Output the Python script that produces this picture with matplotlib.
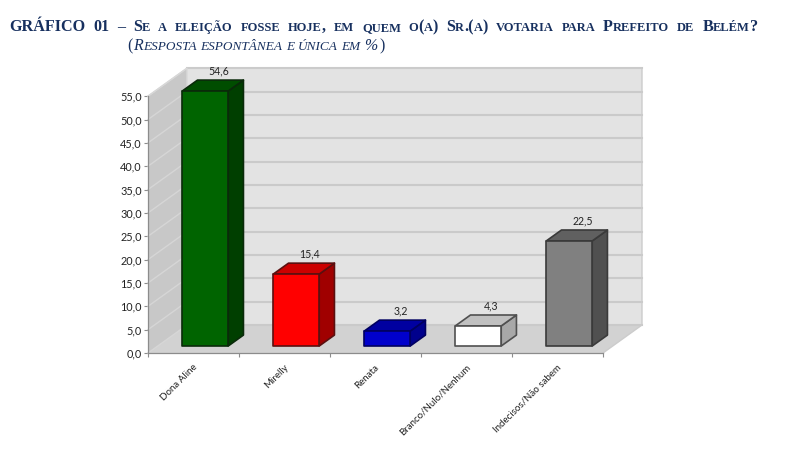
import matplotlib
matplotlib.use("Agg")
import matplotlib.pyplot as plt
from matplotlib.patches import Polygon

categories = ["Dona Aline", "Mirelly", "Renata", "Branco/Nulo/Nenhum", "Indecisos/Não sabem"]
values = [54.6, 15.4, 3.2, 4.3, 22.5]
value_labels = ["54,6", "15,4", "3,2", "4,3", "22,5"]
y_ticks = [0, 5, 10, 15, 20, 25, 30, 35, 40, 45, 50, 55]
y_tick_labels = ["0,0", "5,0", "10,0", "15,0", "20,0", "25,0", "30,0", "35,0", "40,0", "45,0", "50,0", "55,0"]

front_colors = ["#006400", "#ff0000", "#0000cc", "#ffffff", "#808080"]
top_colors = ["#004d00", "#cc0000", "#0000a0", "#c0c0c0", "#606060"]
side_colors = ["#003f00", "#a00000", "#00008c", "#a8a8a8", "#505050"]
edge_colors = ["#0a2a0a", "#5a1010", "#000060", "#505050", "#3a3a3a"]

title_color = "#17305f"
W, H = 800, 476

# pixel sizes of one category and one value unit
PX_CAT = 91.0
PX_VAL = 4.67
# oblique depth of the whole chart, in data units
DX = 39 / PX_CAT
DY = 28 / PX_VAL


def project(x, y, d):
    """front coords + depth (0 to 1) -> axes data coords"""
    return x + d * DX, y + d * DY


def face(ax, pts, color, edge="none", lw=0.0, z=1):
    ax.add_patch(Polygon(pts, closed=True, facecolor=color, edgecolor=edge,
                         linewidth=lw, zorder=z, clip_on=False, joinstyle="round"))


def draw_walls(ax):
    n = len(categories)
    top = y_ticks[-1]
    face(ax, [project(0, 0, 1), project(n, 0, 1), project(n, top, 1), project(0, top, 1)], "#e3e3e3")
    face(ax, [project(0, 0, 0), project(0, 0, 1), project(0, top, 1), project(0, top, 0)], "#c8c8c8")
    face(ax, [project(0, 0, 0), project(n, 0, 0), project(n, 0, 1), project(0, 0, 1)], "#d2d2d2")
    for v in y_ticks:
        x0, y0 = project(0, v, 0)
        x1, y1 = project(0, v, 1)
        x2, y2 = project(n, v, 1)
        ax.plot([x0, x1], [y0, y1], color="#d6d6d6", lw=1.0, zorder=2, clip_on=False)
        ax.plot([x1, x2], [y1, y2], color="#cacaca", lw=1.5, zorder=2, clip_on=False)
    # outline of the back wall
    x1, y1 = project(n, 0, 0)
    x2, y2 = project(n, 0, 1)
    x3, y3 = project(n, top, 1)
    x4, y4 = project(0, top, 1)
    ax.plot([x1, x2, x3, x4], [y1, y2, y3, y4], color="#cccccc", lw=1.0, zorder=2, clip_on=False)
    x5, y5 = project(0, top, 0)
    x6, y6 = project(0, 0, 1)
    ax.plot([x5, x4, x6], [y5, y4, y6], color="#d8d8d8", lw=1.0, zorder=2, clip_on=False)


def draw_bars(ax):
    half = 0.2525
    shift = 0.022
    d0, d1 = 0.25, 0.64
    for i, v in enumerate(values):
        xl, xr = i + 0.5 + shift - half, i + 0.5 + shift + half
        ec = edge_colors[i]
        z = 3 + i
        face(ax, [project(xr, 0, d0), project(xr, 0, d1), project(xr, v, d1), project(xr, v, d0)],
             side_colors[i], ec, 1.2, z)
        face(ax, [project(xl, v, d0), project(xr, v, d0), project(xr, v, d1), project(xl, v, d1)],
             top_colors[i], ec, 1.2, z)
        face(ax, [project(xl, 0, d0), project(xr, 0, d0), project(xr, v, d0), project(xl, v, d0)],
             front_colors[i], ec, 1.2, z)
        lx, ly = project(i + 0.5, v, d1)
        ax.annotate(value_labels[i], (lx, ly), xytext=(0, 2.5), textcoords="offset points",
                    ha="center", va="bottom", fontsize=7.6, color="#222222",
                    family="Lato", zorder=20, annotation_clip=False)


def draw_runs(fig, text, x0, x1, y, size, small, bold=True, italic=False):
    """small caps line: upper case stays big, lower case is drawn small,
    what is left of the width goes in the spaces"""
    renderer = fig.canvas.get_renderer()
    runs = []
    for ch in text:
        s = small if ch.islower() else size
        if runs and runs[-1][1] == s and ch != " " and runs[-1][0] != " ":
            runs[-1][0] += ch
        else:
            runs.append([ch, s])
    items = []
    used = 0.0
    spaces = 0
    for chunk, s in runs:
        if chunk == " ":
            items.append(None)
            spaces += 1
            continue
        t = fig.text(x0 / W, 1 - y / H, chunk.upper(), fontsize=s, color=title_color,
                     family="Liberation Serif", fontweight="bold" if bold else "normal",
                     fontstyle="italic" if italic else "normal", ha="left", va="baseline")
        w = t.get_window_extent(renderer).width
        used += w
        items.append((t, w))
    gap = (x1 - x0 - used) / max(spaces, 1)
    x = x0
    for item in items:
        if item is None:
            x += gap
            continue
        item[0].set_x(x / W)
        x += item[1]


def main():
    fig = plt.figure(figsize=(W / 100, H / 100), dpi=100, facecolor="white")
    n = len(categories)
    # axes left/bottom sit on the front corner of the floor
    right_px = 148 + (n + DX) * PX_CAT
    top_px = 353 - (y_ticks[-1] + DY) * PX_VAL
    ax = fig.add_axes([148 / W, 1 - 353 / H, (right_px - 148) / W, (353 - top_px) / H])
    ax.set_xlim(0, n + DX)
    ax.set_ylim(0, y_ticks[-1] + DY)
    ax.patch.set_visible(False)

    draw_walls(ax)
    draw_bars(ax)

    for side in ["top", "right"]:
        ax.spines[side].set_visible(False)
    ax.spines["left"].set_bounds(0, y_ticks[-1])
    ax.spines["bottom"].set_bounds(0, n)
    for side in ["left", "bottom"]:
        ax.spines[side].set_color("#8c8c8c")
        ax.spines[side].set_linewidth(0.9)
        ax.spines[side].set_zorder(30)

    ax.set_yticks(y_ticks)
    ax.set_yticklabels(y_tick_labels, fontsize=7.8, color="#222222", family="Lato")
    ax.tick_params(axis="y", length=3, width=0.8, color="#8c8c8c", pad=1.5)

    ax.set_xticks(list(range(n + 1)))
    ax.set_xticklabels([])
    ax.tick_params(axis="x", which="major", length=3, width=0.8, color="#8c8c8c")
    ax.set_xticks([i + 0.49 for i in range(n)], minor=True)
    ax.set_xticklabels(categories, minor=True, rotation=45, ha="right", rotation_mode="anchor",
                       fontsize=7.0, color="#222222", family="Lato")
    ax.tick_params(axis="x", which="minor", length=0, pad=7)

    fig.canvas.draw()
    draw_runs(fig, "GRÁFICO 01 – Se a eleição fosse hoje, em quem o(a) Sr.(a) votaria para Prefeito de Belém?",
              9, 758, 31, 11.6, 9.0)
    draw_runs(fig, "Resposta espontânea e única em %", 133, 377, 50.5, 11.4, 9.5, bold=False, italic=True)
    fig.text(127 / W, 1 - 50.5 / H, "(", fontsize=11.4, color=title_color, family="Liberation Serif", va="baseline")
    fig.text(379 / W, 1 - 50.5 / H, ")", fontsize=11.4, color=title_color, family="Liberation Serif", va="baseline")

    fig.savefig("out.png", dpi=100, facecolor="white")


if __name__ == "__main__":
    main()
